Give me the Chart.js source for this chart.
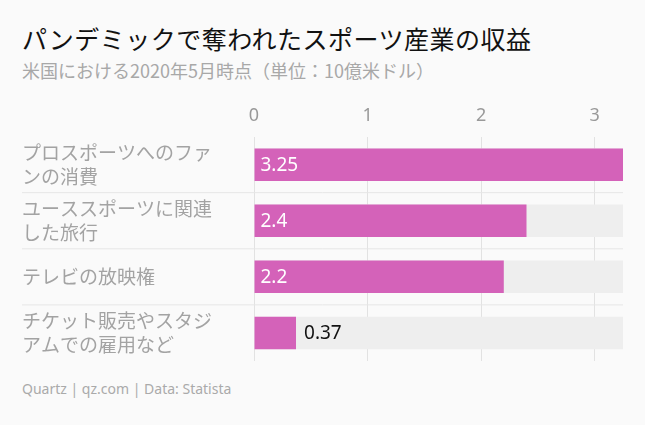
<!DOCTYPE html>
<html><head><meta charset="utf-8">
<script src="https://cdn.jsdelivr.net/npm/chart.js@4"></script>
<style>
body{margin:0;background:#fafafa;font-family:"Noto Sans CJK JP","Noto Sans",sans-serif;}
#t{position:absolute;left:22px;top:20px;font-size:25px;color:#111;font-weight:400;letter-spacing:0.5px}
#s{position:absolute;left:22px;top:57px;font-size:18px;color:#a8a8a8}
#f{position:absolute;left:22px;top:379px;font-size:14px;color:#aaa;font-family:"Noto Sans",sans-serif}
#w{position:absolute;left:0;top:95px;width:645px;height:266px}
</style></head><body>
<div id="t">パンデミックで奪われたスポーツ産業の収益</div>
<div id="s">米国における2020年5月時点（単位：10億米ドル）</div>
<div id="w"><canvas id="c"></canvas></div>
<div id="f">Quartz | qz.com | Data: Statista</div>
<script>
const categories=[["プロスポーツへのファ","ンの消費"],["ユーススポーツに関連","した旅行"],["テレビの放映権"],["チケット販売やスタジ","アムでの雇用など"]];
const values=[3.25,2.4,2.2,0.37];
const trackMax=3.25;
const tickValues=[0,1,2,3];
const pink="#d462b9";
const labelsPlugin={id:"lbl",afterDraw(ch){
 const c=ch.ctx,y=ch.scales.y,ca=ch.chartArea;
 c.save();
 c.font="19px 'Noto Sans CJK JP'";c.fillStyle="#a3a3a3";c.textBaseline="middle";c.textAlign="left";
 categories.forEach((l,i)=>{const yc=y.getPixelForValue(i);const n=l.length;
  l.forEach((s,j)=>c.fillText(s,22,yc+(j-(n-1)/2)*24));
  if(i>0){const yy=(y.getPixelForValue(i)+y.getPixelForValue(i-1))/2;c.strokeStyle="#e6e6e6";c.lineWidth=1;c.beginPath();c.moveTo(22,yy);c.lineTo(ca.right,yy);c.stroke();}
 });
 const meta=ch.getDatasetMeta(1);
 c.font="19px 'Noto Sans'";
 meta.data.forEach((b,i)=>{const v=values[i];const inside=(b.x-b.base)>60;
  c.fillStyle=inside?"#fff":"#111";c.textAlign="left";
  c.fillText(String(v),inside?b.base+6:b.x+8,b.y+1);});
 c.restore();}};
new Chart(document.getElementById("c"),{type:"bar",
 data:{labels:categories.map(c=>c.join("")),datasets:[
  {data:values.map(()=>trackMax),backgroundColor:"#eeeeee",grouped:false,barPercentage:0.58,categoryPercentage:1,order:2},
  {data:values,backgroundColor:pink,grouped:false,barPercentage:0.58,categoryPercentage:1,order:1}]},
 options:{indexAxis:"y",responsive:true,maintainAspectRatio:false,animation:false,
  layout:{padding:{left:254,right:22,top:0,bottom:0}},
  plugins:{legend:{display:false},tooltip:{enabled:false}},
  scales:{x:{position:"top",min:0,max:trackMax,afterBuildTicks:a=>{a.ticks=tickValues.map(v=>({value:v}));},
   grid:{color:"#e2e2e2",drawTicks:false},border:{display:false},
   ticks:{color:"#999",font:{size:18,family:"Noto Sans"},padding:10}},
   y:{display:false}}},
 plugins:[labelsPlugin]});
</script></body></html>
